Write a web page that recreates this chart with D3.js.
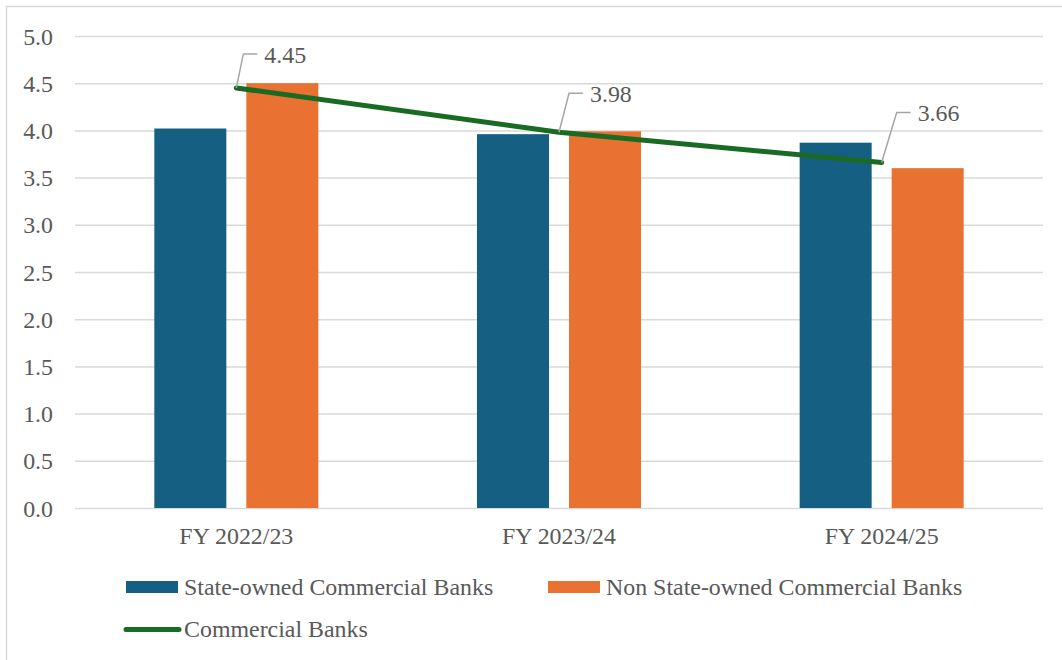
<!DOCTYPE html>
<html>
<head>
<meta charset="utf-8">
<script src="https://cdn.jsdelivr.net/npm/d3@7"></script>
<style>
  html, body { margin: 0; padding: 0; background: #fff; }
  svg { display: block; }
  svg text { font-family: "Liberation Serif", "Times New Roman", Tinos, "DejaVu Serif", serif !important; fill: #595959; }
</style>
</head>
<body>
<svg id="chart" width="1062" height="660"></svg>
<script>
// ---- data ----
const categories = ["FY 2022/23", "FY 2023/24", "FY 2024/25"];
const seriesNames = ["State-owned Commercial Banks", "Non State-owned Commercial Banks"];
const stateOwned = [4.02, 3.96, 3.87];
const nonStateOwned = [4.50, 3.99, 3.60];
const commercialBanks = [4.45, 3.98, 3.66];
const lineName = "Commercial Banks";
const yTicks = [0, 0.5, 1, 1.5, 2, 2.5, 3, 3.5, 4, 4.5, 5];

// ---- layout (not data) ----
const colors = ["#156082", "#E97132"];
const lineColor = "#196B24";
const labelLayout = [{dx: 7, dy: -34}, {dx: 10, dy: -39}, {dx: 15, dy: -50}];
const fontSize = 23.9;
const FONT = '"Liberation Serif", "Times New Roman", Tinos, "DejaVu Serif", serif';

const svg = d3.select("#chart");
const plot = {left: 75, right: 1043, top: 36, bottom: 508};

// chart border (only top/left visible)
svg.append("rect").attr("x", 6.5).attr("y", 6.5).attr("width", 1100).attr("height", 700)
  .attr("fill", "none").attr("stroke", "#d9d9d9").attr("stroke-width", 1.5);

const x0 = d3.scaleBand().domain(categories).range([plot.left, plot.right]).paddingInner(0).paddingOuter(0);
const x1 = d3.scaleBand().domain(seriesNames).range([0, x0.bandwidth()]).paddingInner(0.2174).paddingOuter(0.862);
const y = d3.scaleLinear().domain([0, 5]).range([plot.bottom, plot.top]);

// gridlines via axis
const grid = svg.append("g").attr("transform", `translate(${plot.left},0)`)
  .call(d3.axisLeft(y).tickValues(yTicks).tickSize(-(plot.right - plot.left)).tickFormat(""));
grid.select(".domain").remove();
grid.selectAll("line").attr("stroke", "#d9d9d9").attr("stroke-width", 1.5);

// y labels
const yAxis = svg.append("g").attr("transform", `translate(53,0)`)
  .call(d3.axisLeft(y).tickValues(yTicks).tickSize(0).tickPadding(0).tickFormat(d3.format(".1f")));
yAxis.attr("font-family", FONT).attr("font-size", fontSize);
yAxis.select(".domain").remove();
yAxis.selectAll("text").attr("fill", "#595959").attr("dy", "0.34em");

// x labels
const xAxis = svg.append("g").attr("transform", `translate(0,${plot.bottom})`)
  .call(d3.axisBottom(x0).tickSize(0).tickPadding(0));
xAxis.attr("font-family", FONT).attr("font-size", fontSize);
xAxis.select(".domain").remove();
xAxis.selectAll("text").attr("fill", "#595959").attr("dy", null).attr("y", 36);

// bars
const seriesValues = [stateOwned, nonStateOwned];
seriesNames.forEach((s, si) => {
  svg.append("g").selectAll("rect").data(categories).join("rect")
    .attr("x", (c) => x0(c) + x1(s))
    .attr("width", x1.bandwidth())
    .attr("y", (c, i) => y(seriesValues[si][i]))
    .attr("height", (c, i) => y(0) - y(seriesValues[si][i]))
    .attr("fill", colors[si]);
});

// line
const cx = (c) => x0(c) + x0.bandwidth() / 2;
const lineGen = d3.line().x((d, i) => cx(categories[i])).y((d) => y(d));
svg.append("path").datum(commercialBanks).attr("d", lineGen)
  .attr("fill", "none").attr("stroke", lineColor).attr("stroke-width", 5)
  .attr("stroke-linecap", "round").attr("stroke-linejoin", "round");

// data labels with leader lines
commercialBanks.forEach((v, i) => {
  const px = cx(categories[i]), py = y(v);
  const L = labelLayout[i];
  const ex = px + L.dx, ey = py + L.dy;
  svg.append("path")
    .attr("d", `M${px},${py}L${ex},${ey}L${ex + 14},${ey}`)
    .attr("fill", "none").attr("stroke", "#a6a6a6").attr("stroke-width", 1.5);
  svg.append("text").attr("x", ex + 21).attr("y", ey + 9)
    .attr("font-family", FONT).attr("font-size", fontSize).text(d3.format(".2f")(v));
});

// legend
const leg = svg.append("g").attr("font-family", FONT).attr("font-size", fontSize);
const legItems = [
  {type: "rect", color: colors[0], label: seriesNames[0], x: 126, y: 587},
  {type: "rect", color: colors[1], label: seriesNames[1], x: 548, y: 587},
  {type: "line", color: lineColor, label: lineName, x: 126, y: 629.5}
];
legItems.forEach((it) => {
  if (it.type === "rect") {
    leg.append("rect").attr("x", it.x).attr("y", it.y - 6).attr("width", 52).attr("height", 12).attr("fill", it.color);
  } else {
    leg.append("line").attr("x1", it.x).attr("x2", it.x + 53).attr("y1", it.y).attr("y2", it.y)
      .attr("stroke", it.color).attr("stroke-width", 5).attr("stroke-linecap", "round");
  }
  leg.append("text").attr("x", it.x + 58).attr("y", it.y + 7.5).text(it.label);
});
</script>
</body>
</html>
